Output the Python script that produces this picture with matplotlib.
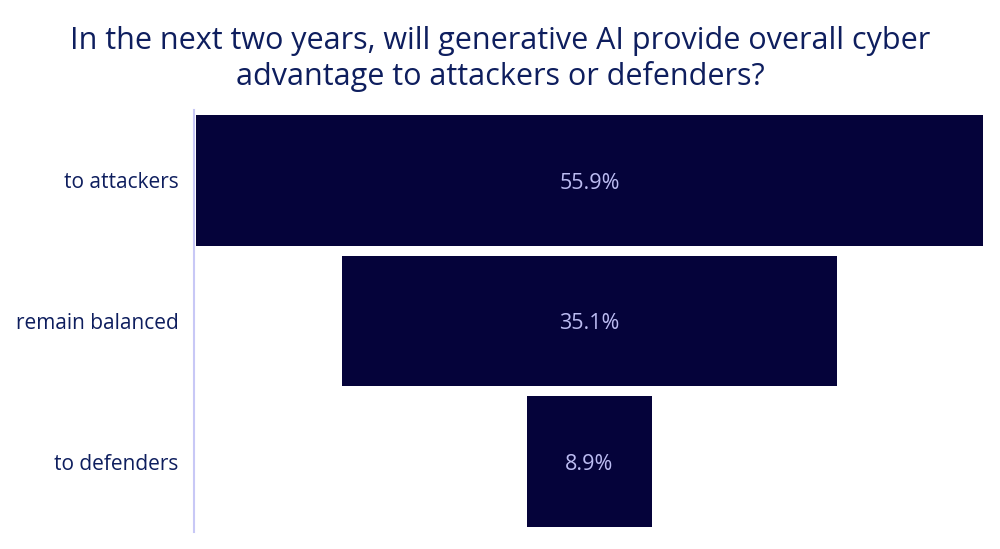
import matplotlib
matplotlib.use('Agg')
import matplotlib.pyplot as plt

categories = ['to attackers', 'remain balanced', 'to defenders']
shares = [55.9, 35.1, 8.9]
value_labels = ['55.9%', '35.1%', '8.9%']

plt.rcParams['font.family'] = ['Open Sans', 'DejaVu Sans']

bar_color = '#05033a'
text_color = '#0e1e5e'
inner_color = '#bcbcf2'
axis_color = '#c8c8f6'

fig = plt.figure(figsize=(10, 5.49), dpi=100)
ax = fig.add_axes([0.194, 0.031, 0.791, 0.7686])

# funnel: bars centred on zero
for i, v in enumerate(shares):
    ax.barh(i, v, left=-v / 2, height=0.93, color=bar_color, edgecolor='none')
    ax.text(0, i + 0.02, value_labels[i], ha='center', va='center', color=inner_color, fontsize=15.5)

lim = max(shares) / 2 * 395.5 / 393.5
ax.set_xlim(-lim, lim)
ax.set_ylim(len(shares) - 0.5, -0.5)
ax.set_yticks(range(len(categories)))
ax.set_yticklabels(categories, fontsize=15, color=text_color)
ax.tick_params(axis='y', length=0, pad=11)
ax.set_xticks([])
for s in ['top', 'right', 'bottom']:
    ax.spines[s].set_visible(False)
ax.spines['left'].set_color(axis_color)
ax.spines['left'].set_linewidth(1.5)

fig.text(0.5, 0.893, 'In the next two years, will generative AI provide overall cyber\nadvantage to attackers or defenders?',
         ha='center', va='center', fontsize=22, color=text_color, linespacing=1.2)

fig.savefig('out.png', dpi=100, facecolor='white')
